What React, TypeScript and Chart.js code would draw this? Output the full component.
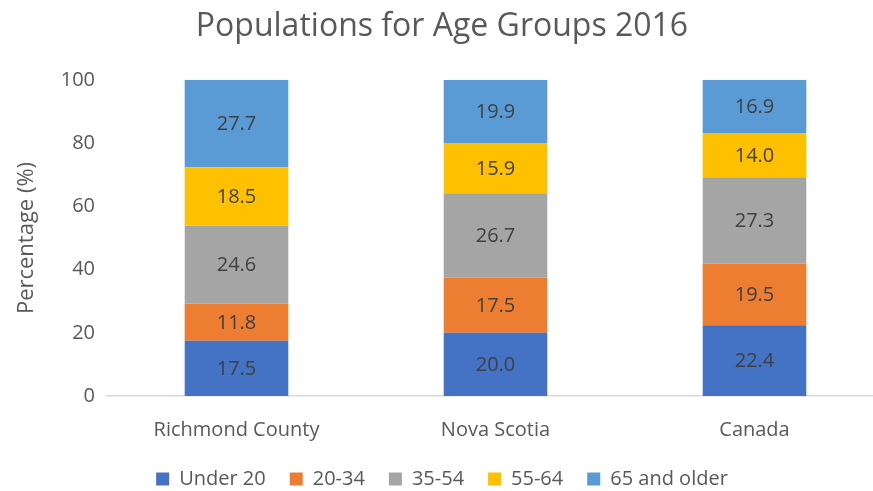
import React, { useEffect, useRef } from "react";
import { Chart, registerables } from "chart.js";

Chart.register(...registerables);

const categories = ["Richmond County", "Nova Scotia", "Canada"];
const seriesNames = ["Under 20", "20-34", "35-54", "55-64", "65 and older"];
const under20 = [17.5, 20.0, 22.4];
const age20to34 = [11.8, 17.5, 19.5];
const age35to54 = [24.6, 26.7, 27.3];
const age55to64 = [18.5, 15.9, 14.0];
const age65plus = [27.7, 19.9, 16.9];
const seriesColors = ["#4472C4", "#ED7D31", "#A5A5A5", "#FFC000", "#5B9BD5"];
const yTicks = [0, 20, 40, 60, 80, 100];

const FONT = "'Open Sans', sans-serif";

const valueLabels = {
  id: "valueLabels",
  afterDatasetsDraw(chart: any) {
    const ctx = chart.ctx;
    ctx.save();
    ctx.font = `20px ${FONT}`;
    ctx.fillStyle = "#404040";
    ctx.textAlign = "center";
    ctx.textBaseline = "middle";
    chart.data.datasets.forEach((ds: any, i: number) => {
      const meta = chart.getDatasetMeta(i);
      meta.data.forEach((el: any, j: number) => {
        const v = ds.data[j];
        const y = (el.y + el.base) / 2;
        ctx.fillText(Number(v).toFixed(1), el.x, y + 1);
      });
    });
    ctx.restore();
  },
};

export default function App() {
  const ref = useRef<HTMLCanvasElement>(null);
  useEffect(() => {
    const allSeries = [under20, age20to34, age35to54, age55to64, age65plus];
    const chart = new Chart(ref.current!, {
      type: "bar",
      data: {
        labels: categories,
        datasets: allSeries.map((d, i) => ({
          label: seriesNames[i],
          data: d,
          backgroundColor: seriesColors[i],
          borderWidth: 0,
          categoryPercentage: 1,
          barPercentage: 0.4,
        })),
      },
      options: {
        animation: false,
        responsive: false,
        maintainAspectRatio: false,
        layout: { padding: { left: 0, right: 6, top: 0, bottom: 0 } },
        plugins: {
          title: {
            display: true,
            text: "Populations for Age Groups 2016",
            color: "#595959",
            font: { family: FONT, size: 32, weight: "normal" },
            padding: { top: 8, bottom: 33.6 },
          },
          legend: {
            position: "bottom",
            labels: {
              color: "#595959",
              font: { family: FONT, size: 20 },
              boxWidth: 13,
              boxHeight: 13,
              padding: 24,
            },
          },
          tooltip: { enabled: false },
        },
        scales: {
          x: {
            stacked: true,
            grid: { display: false, drawTicks: false },
            border: { display: true, color: "#D9D9D9", width: 1.5 },
            ticks: { color: "#595959", font: { family: FONT, size: 20 }, padding: 22 },
            afterFit: (s: any) => { s.height = 49; },
          },
          y: {
            stacked: true,
            min: 0,
            max: 100,
            afterBuildTicks: (s: any) => { s.ticks = yTicks.map((v) => ({ value: v })); },
            grid: { display: false, drawTicks: false },
            border: { display: false },
            ticks: { color: "#595959", font: { family: FONT, size: 20 }, padding: 12 },
            title: {
              display: true,
              text: "Percentage (%)",
              color: "#595959",
              font: { family: FONT, size: 22 },
              padding: { top: 14, bottom: 0 },
            },
            afterFit: (s: any) => { s.width = 107; },
          },
        },
      },
      plugins: [valueLabels],
    });
    return () => chart.destroy();
  }, []);
  return (
    <div style={{ position: "fixed", left: 0, top: 0, width: 873, height: 491, overflow: "hidden", background: "#fff" }}>
      <canvas ref={ref} width={890} height={499} style={{ width: 890, height: 499, display: "block" }} />
    </div>
  );
}
